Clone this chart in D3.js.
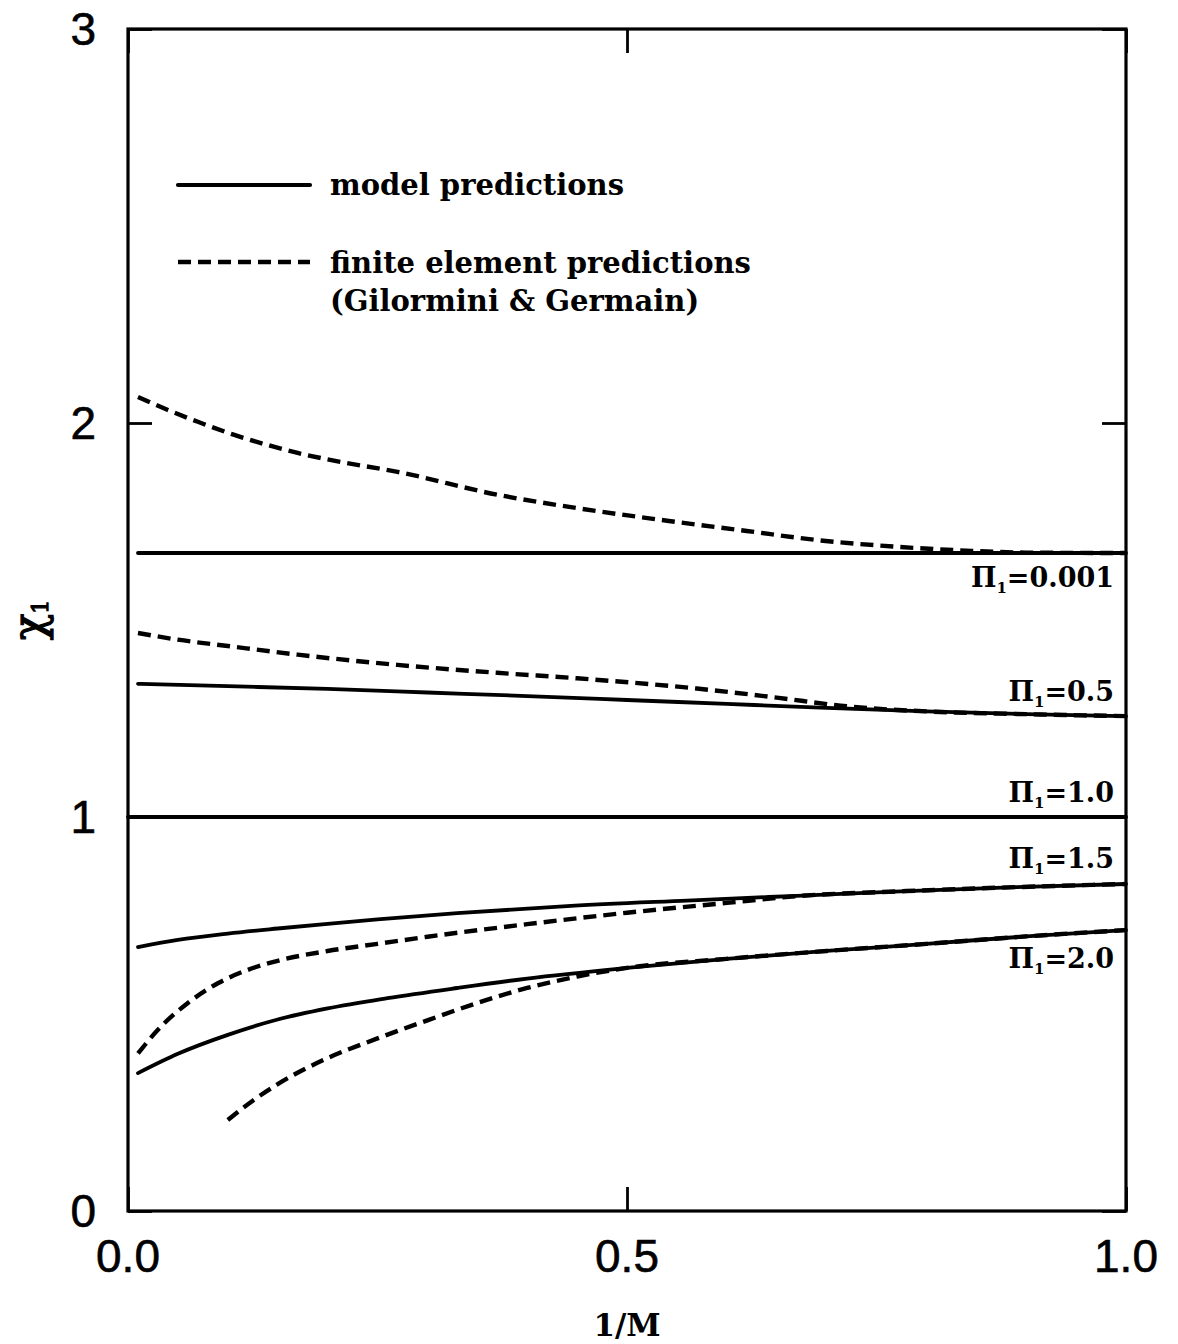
<!DOCTYPE html>
<html>
<head>
<meta charset="utf-8">
<script src="https://cdn.jsdelivr.net/npm/d3@7"></script>
<style>
  html, body { margin: 0; padding: 0; background: #fff; }
  svg { display: block; }
</style>
</head>
<body>
<svg id="chart" width="1178" height="1344"></svg>
<script>
// Tick values and labels
const xTicks = [0.0, 0.5, 1.0];
const xTickLabels = ["0.0", "0.5", "1.0"];
const yTicks = [0, 1, 2, 3];
const yTickLabels = ["0", "1", "2", "3"];

// Curve parameters (Π₁ values)
const piValues = ["0.001", "0.5", "1.0", "1.5", "2.0"];

// Model predictions: [1/M, χ₁]
const model_0001 = [[0.01, 1.670], [1.0, 1.670]];
const model_05 = [[0.01, 1.338], [0.1, 1.332], [0.2, 1.325], [0.3, 1.316], [0.4, 1.307],
  [0.5, 1.297], [0.6, 1.287], [0.7, 1.277], [0.8, 1.268], [0.9, 1.261], [1.0, 1.256]];
const model_10 = [[0.0, 1.0], [1.0, 1.0]];
const model_15 = [[0.01, 0.670], [0.05, 0.688], [0.1, 0.704], [0.15, 0.717], [0.2, 0.729],
  [0.25, 0.740], [0.33, 0.756], [0.44, 0.774], [0.56, 0.788], [0.67, 0.800], [0.78, 0.812],
  [0.89, 0.822], [1.0, 0.830]];
const model_20 = [[0.01, 0.350], [0.05, 0.399], [0.1, 0.447], [0.15, 0.486], [0.2, 0.514],
  [0.26, 0.540], [0.33, 0.566], [0.4, 0.590], [0.5, 0.617], [0.6, 0.640], [0.7, 0.660],
  [0.8, 0.678], [0.9, 0.697], [1.0, 0.713]];

// Finite element predictions (Gilormini & Germain): [1/M, χ₁]
const fe_0001 = [[0.01, 2.066], [0.04, 2.033], [0.07, 2.003], [0.105, 1.971], [0.14, 1.944],
  [0.17, 1.924], [0.205, 1.905], [0.27, 1.876], [0.37, 1.818], [0.45, 1.784], [0.54, 1.752],
  [0.62, 1.726], [0.69, 1.703], [0.77, 1.686], [0.84, 1.676], [0.9, 1.671], [1.0, 1.670]];
const fe_05 = [[0.01, 1.467], [0.05, 1.450], [0.1, 1.434], [0.17, 1.412], [0.27, 1.386],
  [0.37, 1.366], [0.45, 1.352], [0.57, 1.326], [0.65, 1.303], [0.72, 1.281], [0.8, 1.268],
  [0.9, 1.261], [1.0, 1.256]];
const fe_15 = [[0.01, 0.400], [0.03, 0.460], [0.06, 0.528], [0.09, 0.578], [0.12, 0.612],
  [0.15, 0.635], [0.2, 0.660], [0.25, 0.678], [0.3, 0.696], [0.4, 0.728], [0.5, 0.757],
  [0.6, 0.782], [0.67, 0.799], [0.78, 0.812], [0.89, 0.822], [1.0, 0.830]];
const fe_20 = [[0.1, 0.231], [0.125, 0.280], [0.15, 0.322], [0.2, 0.388], [0.25, 0.438],
  [0.3, 0.484], [0.35, 0.528], [0.4, 0.566], [0.45, 0.595], [0.5, 0.617], [0.6, 0.640],
  [0.7, 0.660], [0.8, 0.678], [0.9, 0.697], [1.0, 0.713]];

const modelSeries = [model_0001, model_05, model_10, model_15, model_20];
const feSeries = [fe_0001, fe_05, fe_15, fe_20];

// Layout
const plotLeft = 128, plotRight = 1126, plotTop = 29, plotBottom = 1211;
const svg = d3.select("#chart");
const x = d3.scaleLinear().domain([0, 1]).range([plotLeft, plotRight]);
const y = d3.scaleLinear().domain([0, 3]).range([plotBottom, plotTop]);

const sans = "'Liberation Sans', Arial, sans-serif";
const serif = "'DejaVu Serif', serif";

const line = d3.line()
  .x(d => x(d[0]))
  .y(d => y(d[1]))
  .curve(d3.curveMonotoneX);

// Curves
const curves = svg.append("g").attr("fill", "none").attr("stroke", "#000");
curves.selectAll("path.model")
  .data(modelSeries)
  .join("path")
  .attr("class", "model")
  .attr("d", line)
  .attr("stroke-width", 3.8)
  .attr("stroke-linecap", "round");

curves.selectAll("path.fe")
  .data(feSeries)
  .join("path")
  .attr("class", "fe")
  .attr("d", line)
  .attr("stroke-width", 4.4)
  .attr("stroke-dasharray", "13,7");

// Frame
svg.append("rect")
  .attr("x", x(0)).attr("y", y(3))
  .attr("width", x(1) - x(0)).attr("height", y(0) - y(3))
  .attr("fill", "none").attr("stroke", "#000").attr("stroke-width", 3.2);

// Axes with inward ticks on all four sides
const tickLen = 24;
const xAxisB = d3.axisBottom(x).tickValues(xTicks).tickSize(-tickLen).tickFormat("");
const xAxisT = d3.axisTop(x).tickValues(xTicks).tickSize(-tickLen).tickFormat("");
const yAxisL = d3.axisLeft(y).tickValues(yTicks).tickSize(-tickLen).tickFormat("");
const yAxisR = d3.axisRight(y).tickValues(yTicks).tickSize(-tickLen).tickFormat("");

function styleAxis(g) {
  g.select(".domain").remove();
  g.selectAll(".tick line").attr("stroke", "#000").attr("stroke-width", 2.8);
}
svg.append("g").attr("transform", `translate(0,${plotBottom})`).call(xAxisB).call(styleAxis);
svg.append("g").attr("transform", `translate(0,${plotTop})`).call(xAxisT).call(styleAxis);
svg.append("g").attr("transform", `translate(${plotLeft},0)`).call(yAxisL).call(styleAxis);
svg.append("g").attr("transform", `translate(${plotRight},0)`).call(yAxisR).call(styleAxis);

// Tick labels
svg.append("g").selectAll("text")
  .data(xTicks)
  .join("text")
  .attr("x", d => x(d))
  .attr("y", plotBottom + 61)
  .attr("text-anchor", "middle")
  .attr("font-family", sans)
  .attr("font-size", 46)
  .attr("stroke", "#000").attr("stroke-width", 0.6)
  .text((d, i) => xTickLabels[i]);

svg.append("g").selectAll("text")
  .data(yTicks)
  .join("text")
  .attr("x", plotLeft - 32)
  .attr("y", d => y(d) + 16)
  .attr("text-anchor", "end")
  .attr("font-family", sans)
  .attr("font-size", 46)
  .attr("stroke", "#000").attr("stroke-width", 0.6)
  .text((d, i) => yTickLabels[i]);

// Axis titles
svg.append("text")
  .attr("x", x(0.5))
  .attr("y", 1336)
  .attr("text-anchor", "middle")
  .attr("font-family", serif)
  .attr("font-weight", "bold")
  .attr("font-size", 31)
  .text("1/M");

const yTitle = svg.append("text")
  .attr("transform", `translate(44,${y(1.5)}) rotate(-90)`)
  .attr("text-anchor", "middle")
  .attr("font-family", serif)
  .attr("font-size", 44)
  .attr("stroke", "#000").attr("stroke-width", 1.2);
yTitle.append("tspan").text("χ");
yTitle.append("tspan").attr("font-size", 22).attr("dy", 4).text("1");

// Curve labels at the right edge
const labelRows = [
  { series: model_0001, offset: 34 },
  { series: model_05, offset: -15 },
  { series: model_10, offset: -15 },
  { series: model_15, offset: -16 },
  { series: model_20, offset: 38 }
];
const labels = svg.append("g")
  .attr("font-family", serif)
  .attr("font-weight", "bold")
  .attr("font-size", 27)
  .attr("text-anchor", "end");
labelRows.forEach((row, i) => {
  const last = row.series[row.series.length - 1];
  const t = labels.append("text")
    .attr("x", plotRight - 12)
    .attr("y", y(last[1]) + row.offset);
  t.append("tspan").text("Π");
  t.append("tspan").attr("font-size", 15).attr("dy", 6).text("1");
  t.append("tspan").attr("dy", -6).text("=" + piValues[i]);
});

// Legend
const legend = svg.append("g")
  .attr("font-family", serif)
  .attr("font-weight", "bold")
  .attr("font-size", 29);
legend.append("line")
  .attr("x1", 178).attr("x2", 310).attr("y1", 185).attr("y2", 185)
  .attr("stroke", "#000").attr("stroke-width", 4.2).attr("stroke-linecap", "round");
legend.append("text").attr("x", 330).attr("y", 195).text("model predictions");
legend.append("line")
  .attr("x1", 178).attr("x2", 310).attr("y1", 262).attr("y2", 262)
  .attr("stroke", "#000").attr("stroke-width", 4.4).attr("stroke-dasharray", "13,7");
legend.append("text").attr("x", 330).attr("y", 273).text("finite element predictions");
legend.append("text").attr("x", 330).attr("y", 311).text("(Gilormini & Germain)");
</script>
</body>
</html>
